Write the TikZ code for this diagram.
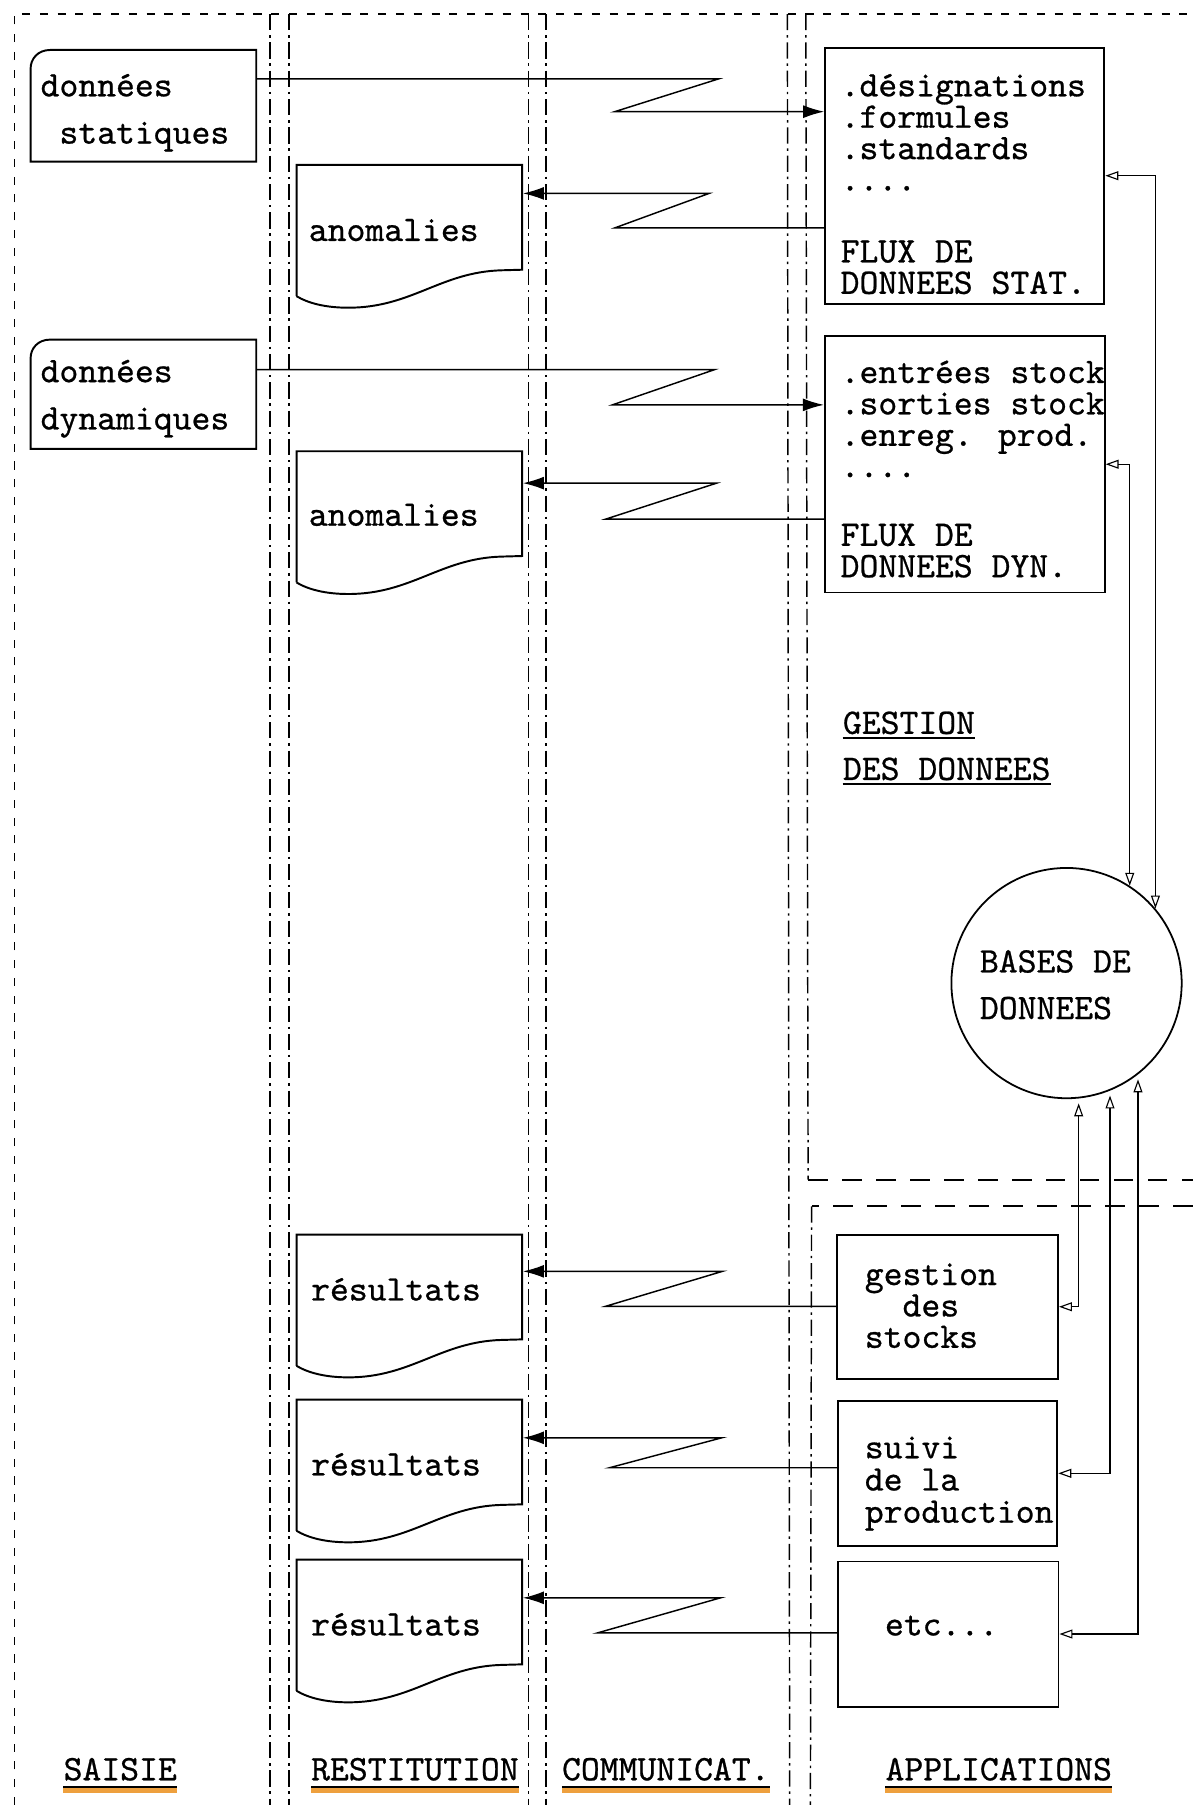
\documentclass[tikz,border=0pt]{standalone}
\usepackage{fontspec}
\newfontfamily\twfont{lmmono10-regular.otf}[FakeBold=0.7]
\usetikzlibrary{arrows.meta,calc}
\definecolor{hl}{RGB}{238,160,62}
\newcommand\cardline[2]{\begin{scope}[shift={(#1.north west)}]
  \draw[boxline] (0,16) .. controls (0,8) and (6,0) .. (17,0) -- (196,0) -- (196,#2) -- (0,#2) -- cycle;
\end{scope}}
\newcommand\docline[1]{\begin{scope}[shift={(#1.north west)}]
  \draw[boxline] (0,114) -- (0,0) -- (196,0) -- (196,91) -- (178,91.5) .. controls (125,93) and (100,124) .. (45,124) .. controls (25,124) and (10,120) .. (0,114);
\end{scope}}
\newcommand\tline{\rule{0pt}{16pt}}
\begin{document}
\setlength{\lineskiplimit}{-30pt}
\begin{tikzpicture}[x=0.025cm,y=-0.025cm,
  boxline/.style={line width=1.2pt},
  rbox/.style={draw, line width=1.2pt, rectangle, inner sep=0pt, anchor=north west},
  shapebox/.style={rectangle, inner sep=0pt, anchor=north west, minimum width=4.9cm},
  tw/.style={font=\fontsize{22.2}{19.4}\selectfont\twfont, inner sep=0pt, align=left},
  flow/.style={line width=0.9pt},
  fwd/.style={flow, -{Latex[length=13pt,width=8pt]}},
  dbl/.style={line width=0.7pt, {Triangle[open,length=8pt,width=5.5pt]}-{Triangle[open,length=8pt,width=5.5pt]}},
  divider/.style={line width=0.9pt, dash pattern=on 10pt off 3pt on 1.5pt off 3pt},
  frame/.style={line width=0.8pt, dash pattern=on 5pt off 6pt},
  sep/.style={line width=1.3pt, dash pattern=on 12pt off 9pt},
  uline/.style={line width=1.2pt},
  hline/.style={line width=3.5pt, hl}
]
\fill[white] (0,0) rectangle (1036,1568);
\useasboundingbox (0,0) rectangle (1036,1568);

% frame and column dividers
\draw[frame] (12.6,1568) -- (12.6,12.2) -- (1036,12.2);
\draw[divider] (234.5,12.2) -- (234.5,1568);
\draw[divider] (251,12.2) -- (251,1568);
\draw[divider] (459,12.2) -- (459,1568);
\draw[divider] (474.5,12.2) -- (474.5,1568);
\draw[divider] (684,12.2) -- (686,1568);
\draw[divider] (700,12.2) -- (702,1024.8);
\draw[sep] (702,1024.8) -- (1036,1024.8);
\draw[sep] (1036,1048) -- (705,1048);
\draw[divider] (705,1048) -- (704,1568);

% input cards
\node[shapebox, minimum height=2.425cm] (ds) at (26.6,43.4) {};
\cardline{ds}{97}
\node[tw, anchor=north west] (dst) at (35,60.9) {\tline données\\[9.8pt]\hphantom{x}statiques};
\node[shapebox, minimum height=2.375cm] (dd) at (26.6,295) {};
\cardline{dd}{95}
\node[tw, anchor=north west] (ddt) at (35,309.2) {\tline données\\[9.8pt]dynamiques};

% flux boxes
\node[rbox, minimum width=6.0625cm, minimum height=5.5625cm] (fs) at (716,40.5) {};
\node[tw, anchor=north west] (fst) at (730,60.9) {\tline .désignations\\.formules\\.standards\\....\\[25pt]FLUX DE\\DONNEES STAT.};
\node[rbox, minimum width=6.075cm, minimum height=5.57cm] (fd) at (715.7,291) {};
\node[tw, anchor=north west] (fdt) at (730,309.9) {\tline .entrées stock\\.sorties stock\\.enreg. prod.\\....\\[23pt]FLUX DE\\DONNEES DYN.};

% documents
\node[shapebox, minimum height=3.1cm] (an1) at (257.6,143.3) {};
\docline{an1}
\node[tw, anchor=base west] (an1t) at (268,209.3) {anomalies};
\node[shapebox, minimum height=3.1cm] (an2) at (257.6,392) {};
\docline{an2}
\node[tw, anchor=base west] (an2t) at (268,456.7) {anomalies};
\node[shapebox, minimum height=3.1cm] (r1) at (257.6,1072.5) {};
\docline{r1}
\node[tw, anchor=base west] (r1t) at (270,1129.7) {résultats};
\node[shapebox, minimum height=3.1cm] (r2) at (257.6,1215.8) {};
\docline{r2}
\node[tw, anchor=base west] (r2t) at (270,1281.7) {résultats};
\node[shapebox, minimum height=3.1cm] (r3) at (257.6,1354.8) {};
\docline{r3}
\node[tw, anchor=base west] (r3t) at (270,1420.7) {résultats};

% application boxes
\node[rbox, minimum width=4.79cm, minimum height=3.135cm] (ag) at (726.6,1071.6) {};
\node[tw, anchor=north west] (agt) at (751,1093.5) {\tline gestion\\\hphantom{xx}des\\stocks};
\node[rbox, minimum width=4.765cm, minimum height=3.16cm] (as) at (727,1215.8) {};
\node[tw, anchor=north west] (ast) at (751,1244) {\tline suivi\\[0.5pt]de la\\[0.5pt]production};
\node[rbox, minimum width=4.79cm, minimum height=3.15cm] (ae) at (727,1355.6) {};
\node[tw, anchor=base west] (aet) at (768.5,1420.7) {etc...};

% data base
\node[draw, circle, line width=1.1pt, minimum size=5cm, inner sep=0pt] (db) at (926.5,854) {};
\node[tw, anchor=north west] (dbt) at (851,822) {\tline BASES DE\\[9.4pt]DONNEES};

% section title
\node[tw, anchor=base west] (gd1) at (732,637.5) {GESTION};
\node[tw, anchor=base west] (gd2) at (732,677.5) {DES DONNEES};
\draw[uline] ($(gd1.south west)+(0,3)$) -- ($(gd1.south east)+(0,3)$);
\draw[uline] ($(gd2.south west)+(0,3)$) -- ($(gd2.south east)+(0,3)$);

% column labels
\node[tw, anchor=base west] (l1) at (55,1546.5) {SAISIE};
\node[tw, anchor=base west] (l2) at (270,1546.5) {RESTITUTION};
\node[tw, anchor=base west] (l3) at (488,1546.5) {COMMUNICAT.};
\node[tw, anchor=base west] (l4) at (769,1546.5) {APPLICATIONS};
\foreach \l in {l1,l2,l3,l4}{
  \draw[hline] ($(\l.south west)+(0,8)$) -- ($(\l.south east)+(0,8)$);
  \draw[uline] ($(\l.south west)+(0,5)$) -- ($(\l.south east)+(0,5)$);
}

% communication zigzags
\coordinate (z1a) at (624,68.6); \coordinate (z1b) at (534,97);
\draw[fwd] (ds.east |- z1a) -- (z1a) -- (z1b) -- (fs.west |- z1b);
\coordinate (z2a) at (534,198); \coordinate (z2b) at (616,168);
\draw[fwd] (fs.west |- z2a) -- (z2a) -- (z2b) -- (an1.east |- z2b);
\coordinate (z3a) at (621,321); \coordinate (z3b) at (532,351.7);
\draw[fwd] (dd.east |- z3a) -- (z3a) -- (z3b) -- (fd.west |- z3b);
\coordinate (z4a) at (526,451); \coordinate (z4b) at (622.5,419.7);
\draw[fwd] (fd.west |- z4a) -- (z4a) -- (z4b) -- (an2.east |- z4b);
\coordinate (z5a) at (526,1134.8); \coordinate (z5b) at (627.6,1104.4);
\draw[fwd] (ag.west |- z5a) -- (z5a) -- (z5b) -- (r1.east |- z5b);
\coordinate (z6a) at (529.5,1275); \coordinate (z6b) at (627,1249);
\draw[fwd] (as.west |- z6a) -- (z6a) -- (z6b) -- (r2.east |- z6b);
\coordinate (z7a) at (519,1418.5); \coordinate (z7b) at (626,1388);
\draw[fwd] (ae.west |- z7a) -- (z7a) -- (z7b) -- (r3.east |- z7b);

% data base links
\draw[dbl] (fs.east) -- (fs.east -| db.40.5) -- (db.40.5);
\draw[dbl] (fd.east) -- (fd.east -| db.57) -- (db.57);
\draw[dbl, shorten >=3pt] (ag.east) -- (ag.east -| db.-84.3) -- (db.-84.3);
\draw[dbl, shorten >=3pt] (as.east) -- (as.east -| db.-68.9) -- (db.-68.9);
\draw[dbl, shorten >=3pt] (ae.east) -- (ae.east -| db.-52) -- (db.-52);
\end{tikzpicture}
\end{document}
